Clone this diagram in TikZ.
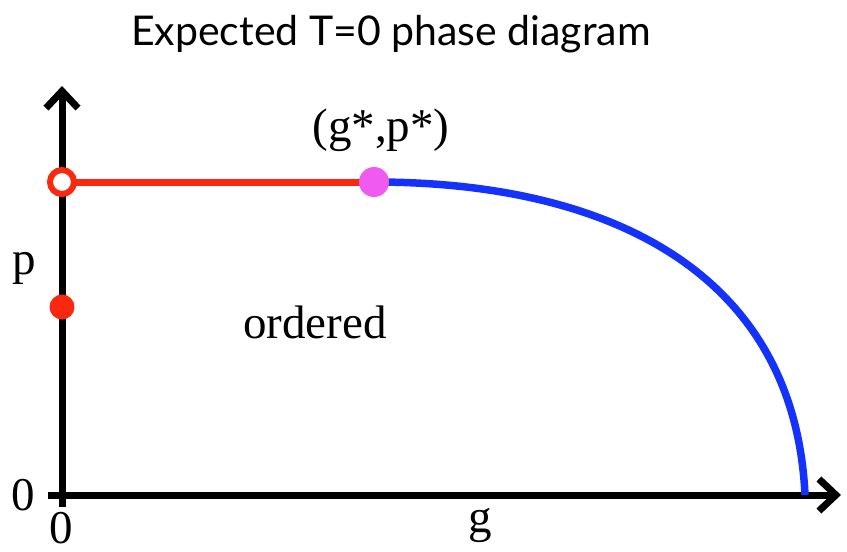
\documentclass[tikz,border=0pt]{standalone}
\usepackage{fontspec}
\setmainfont{Liberation Serif}
\newfontfamily\titlefont{Lato}
\usetikzlibrary{arrows.meta}
\definecolor{linered}{RGB}{250,40,15}
\definecolor{lineblue}{RGB}{20,50,250}
\definecolor{critpink}{RGB}{240,90,240}
\tikzset{
  axis/.style={line width=7pt,-{Straight Barb[length=17pt,width=32pt,line width=7pt]}},
  lbl/.style={font=\fontsize{47}{50}\selectfont,inner sep=0pt},
  dot/.style={circle,inner sep=0pt,minimum size=#1}
}

\begin{document}
\begin{tikzpicture}[x=1pt,y=-1pt]
\useasboundingbox (0,0) rectangle (847,552);
  \node[font=\titlefont\fontsize{41}{44}\selectfont,inner sep=0pt] (title) at (391,34) {Expected T=0 phase diagram};
  % axes
  \coordinate (ybot) at (62,507);
  \coordinate (ytop) at (62,86);
  \coordinate (xleft) at (48,495);
  \coordinate (xright) at (841,495);
  \coordinate (gc) at (805,495);
  \draw[axis] (ybot)--(ytop);
  \draw[axis] (xleft)--(xright);
  \node[lbl] (pzero) at (23,495) {0};
  \node[lbl] (gzero) at (61,528) {0};
  \node[lbl] (glbl) at (480,526) {g};
  \node[lbl] (plbl) at (24,268) {p};
  \node[lbl] (ordered) at (315,322) {ordered};
  \node[lbl] (crit) at (381,130) {(g*,p*)};
  % phase boundary
  \coordinate (openpt) at (62,182);
  \coordinate (critpt) at (374,182);
  \draw[linered,line width=7pt] (openpt)--(critpt);
  \draw[lineblue,line width=7.5pt] (critpt) .. controls (620,182) and (795,280) .. (gc);
  \node[dot=24pt,draw=linered,line width=6pt,fill=white] (open) at (openpt) {};
  \node[dot=25pt,fill=linered] (pdot) at (62,307) {};
  \node[dot=30pt,fill=critpink] (star) at (critpt) {};
\end{tikzpicture}
\end{document}
